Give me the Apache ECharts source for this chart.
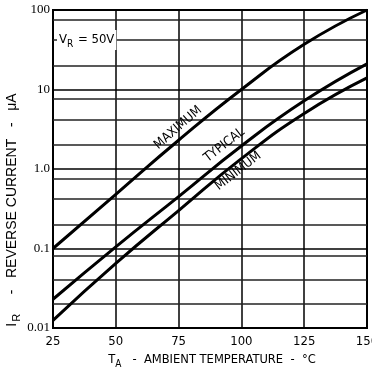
<!DOCTYPE html>
<html>
<head>
<meta charset="utf-8">
<script src="https://cdn.jsdelivr.net/npm/echarts@6/dist/echarts.min.js"></script>
<style>
  html, body { margin: 0; padding: 0; background: #fff; }
  #chart { width: 372px; height: 373px; }
</style>
</head>
<body>
<div id="chart"></div>
<script>
// Ambient temperature (°C) at which reverse current is read
const temps = [25, 50, 75, 100, 125, 150];
// Reverse current (µA) at V_R = 50 V
const maxCurrent = [0.1, 0.48, 2.3, 10, 37, 100];
const typCurrent = [0.023, 0.105, 0.45, 1.95, 7.2, 21];
const minCurrent = [0.0125, 0.065, 0.3, 1.35, 5, 14];

// Tick labels
const xTickLabels = ['25', '50', '75', '100', '125', '150'];
const yTickValues = [0.01, 0.1, 1, 10, 100];
const yTickLabels = ['0.01', '0.1', '1.0', '10', '100'];

// Intermediate rulings inside each decade
const decadeStarts = [0.01, 0.1, 1, 10];
const rulingFactors = [2, 4.2, 7.6];

const seriesNames = ['MAXIMUM', 'TYPICAL', 'MINIMUM'];

const FONT = '"DejaVu Sans Condensed", "Liberation Sans", sans-serif';
const WIDE_FONT = '"Liberation Sans", Arial, sans-serif';

const chart = echarts.init(document.getElementById('chart'), null, { renderer: 'canvas' });

const rulings = [];
decadeStarts.forEach(d => rulingFactors.forEach(f => rulings.push({ yAxis: d * f })));

function pairs(values) {
  return temps.map((t, i) => [t, values[i]]);
}

const curveStyle = { color: '#000', width: 3 };
const curveBase = { type: 'line', smooth: 0.5, showSymbol: false, lineStyle: curveStyle, z: 5 };

chart.setOption({
  animation: false,
  backgroundColor: '#fff',
  grid: {
    left: 53, right: 5, top: 10, bottom: 45,
    outerBoundsMode: 'none', containLabel: false,
    show: true, borderColor: '#000', borderWidth: 2, backgroundColor: 'transparent'
  },
  xAxis: {
    type: 'value', min: 25, max: 150, interval: 25,
    axisLine: { show: true, lineStyle: { color: '#000', width: 2 } },
    axisTick: { show: false },
    splitLine: { show: true, lineStyle: { color: '#000', width: 1.5 } },
    axisLabel: {
      color: '#000', fontSize: 13, fontFamily: FONT, margin: 7,
      formatter: v => xTickLabels[temps.indexOf(v)] ?? ''
    }
  },
  yAxis: {
    type: 'log', logBase: 10, min: 0.01, max: 100,
    axisLine: { show: true, lineStyle: { color: '#000', width: 2 } },
    axisTick: { show: false },
    splitLine: { show: true, lineStyle: { color: '#000', width: 1.5 } },
    axisLabel: {
      color: '#000', fontSize: 13, fontFamily: '"Liberation Serif", serif', margin: 3,
      formatter: v => {
        const i = yTickValues.findIndex(t => Math.abs(Math.log10(t) - Math.log10(v)) < 1e-6);
        return i >= 0 ? yTickLabels[i] : '';
      }
    }
  },
  series: [
    Object.assign({}, curveBase, {
      name: seriesNames[0], data: pairs(maxCurrent),
      markLine: {
        silent: true, symbol: 'none', label: { show: false },
        lineStyle: { color: '#222', width: 1.5, type: 'solid' },
        data: rulings, z: 1
      }
    }),
    Object.assign({}, curveBase, { name: seriesNames[1], data: pairs(typCurrent) }),
    Object.assign({}, curveBase, { name: seriesNames[2], data: pairs(minCurrent) })
  ]
});

// Curve captions placed in data space, rotated along the curves
const captions = [
  { text: seriesNames[0], at: [74.8, 3.3], angle: 41 },
  { text: seriesNames[1], at: [93.2, 2.0], angle: 38 },
  { text: seriesNames[2], at: [98.7, 0.94], angle: 38 }
];

const graphics = captions.map(c => {
  const p = chart.convertToPixel({ gridIndex: 0 }, c.at);
  return {
    type: 'text', x: p[0], y: p[1], rotation: c.angle * Math.PI / 180, z: 10,
    style: { text: c.text, fill: '#000', font: '13px ' + FONT, align: 'center', verticalAlign: 'middle' }
  };
});

// Test condition note, sitting on a ruling with a white backing
const vrPos = chart.convertToPixel({ gridIndex: 0 }, [25, 42]);
graphics.push({
  type: 'text', x: vrPos[0] + 4, y: vrPos[1], z: 10,
  style: {
    text: '{m|V}{s|R}{m| = 50V}',
    align: 'left', verticalAlign: 'middle',
    backgroundColor: '#fff', padding: [2, 2, 2, 2],
    rich: {
      m: { fontSize: 13, fontFamily: FONT, fill: '#000', lineHeight: 16 },
      s: { fontSize: 10, fontFamily: FONT, fill: '#000', lineHeight: 16, padding: [9, 1, 0, 0] }
    }
  }
});

// Axis titles
graphics.push({
  type: 'text', x: 212, y: 360, z: 10,
  style: {
    text: '{m|T}{s|A}{m|   -  AMBIENT TEMPERATURE  -  °C}', align: 'center', verticalAlign: 'middle',
    rich: {
      m: { fontSize: 12.8, fontFamily: FONT, fill: '#000', lineHeight: 16 },
      s: { fontSize: 10, fontFamily: FONT, fill: '#000', lineHeight: 16, padding: [9, 0, 0, 0] }
    }
  }
});
graphics.push({
  type: 'text', x: 12, y: 210, rotation: Math.PI / 2, z: 10,
  style: {
    text: '{m|I}{s|R}{m|     -   REVERSE CURRENT   -   μA}', align: 'center', verticalAlign: 'middle',
    rich: {
      m: { fontSize: 14, fontFamily: WIDE_FONT, fill: '#000', lineHeight: 18 },
      s: { fontSize: 11, fontFamily: WIDE_FONT, fill: '#000', lineHeight: 18, padding: [10, 0, 0, 1] }
    }
  }
});

chart.setOption({ graphic: graphics });
</script>
</body>
</html>
